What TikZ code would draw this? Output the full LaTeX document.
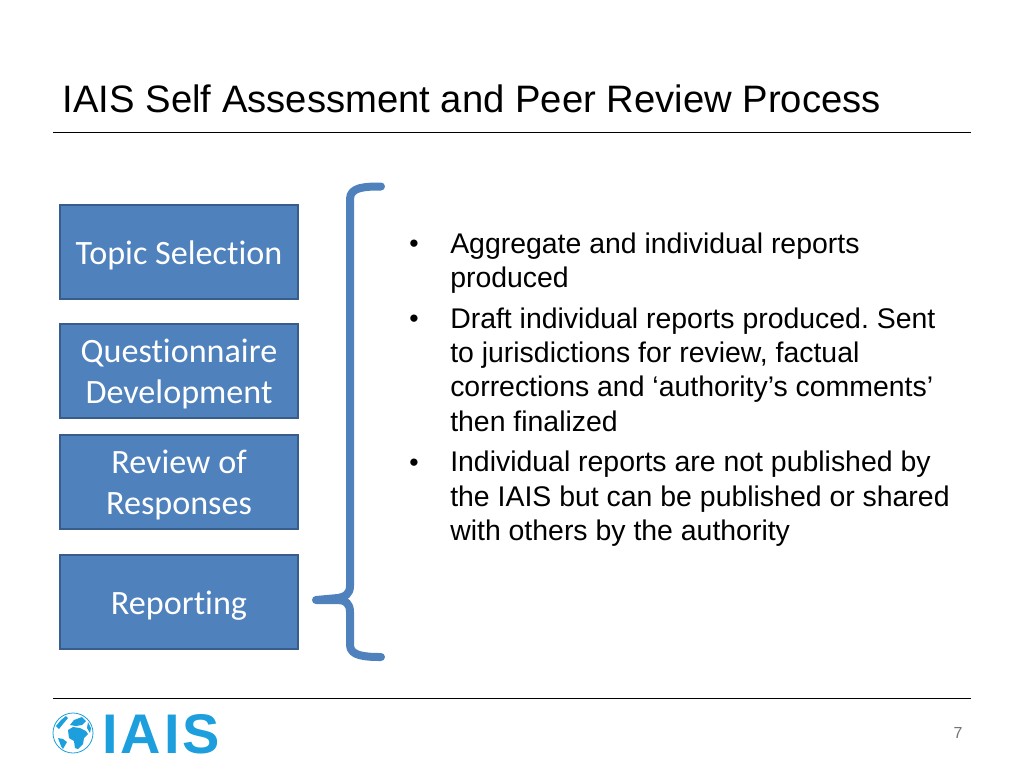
\documentclass[tikz,border=0pt]{standalone}
\usepackage{fontspec}
\setmainfont{Liberation Sans}
\newfontfamily\boxfont[Ligatures=NoCommon]{Carlito}
\newfontfamily\logofont[LetterSpace=5.4]{Liberation Sans}
\usetikzlibrary{positioning}
\definecolor{boxfill}{HTML}{4F81BD}
\definecolor{boxline}{HTML}{385D8A}
\definecolor{logoblue}{HTML}{1C9FDC}
\newcommand{\stagelift}{\rule{0pt}{22.5pt}}
\frenchspacing
\begin{document}
\begin{tikzpicture}[x=.75pt, y=-.75pt,
                    stage/.style = {rectangle, draw=boxline, line width=1.7pt, fill=boxfill, text=white,
                            minimum width=178.5pt, minimum height=70pt, align=center, inner sep=0pt,
                            font=\boxfont\fontsize{25.6pt}{30.8pt}\selectfont},
                    rule/.style = {line width=.75pt, black},
                    report/.style = {anchor=north west, inner sep=0pt, align=left,
                            font=\fontsize{21.32pt}{25.7pt}\selectfont},
                    bulletmark/.style = {anchor=north west, inner sep=0pt,
                            font=\fontsize{20pt}{25.7pt}\selectfont},
                    brace/.style = {draw=boxfill, line width=6pt, line cap=round, line join=round},
                    land/.style = {fill=logoblue, draw=none} ]

        \useasboundingbox (0,0) rectangle (1024,768);

        % title
        \node [anchor=base west, inner sep=0pt, font=\fontsize{28.67pt}{35pt}\selectfont] (title) at (62.5,112) {IAIS Self Assessment and Peer Review Process};
        \coordinate (titleL) at (53,132);
        \coordinate (titleR) at (971,132);
        \draw [rule] (titleL) -- (titleR);

        % process stages
        \node [stage] (topic) at (179,252) {\stagelift Topic Selection};
        \node [stage] (quest) at (179,371) {\stagelift Questionnaire\\Development};
        \node [stage] (review) at (179,482) {\stagelift Review of\\Responses};
        \node [stage] (reporting) at (179,602) {\stagelift Reporting};

        % brace
        \draw [brace] (381,186.5) .. controls (365,186.5) and (350,187) .. (350,199)
                -- (350,586) .. controls (350,594) and (345,597) .. (338,598)
                -- (316,600) -- (338,600) .. controls (345,600) and (350,603) .. (350,612)
                -- (350,645) .. controls (350,656) and (365,657) .. (381,657);

        % reports text
        \node [report] (rep1) at (450,232.5) {Aggregate and individual reports\\produced};
        \node [report] (rep2) at (450,307.5) {Draft individual reports produced. Sent\\to jurisdictions for review, factual\\corrections and ‘authority’s comments’\\then finalized};
        \node [report] (rep3) at (450,451) {Individual reports are not published by\\the IAIS but can be published or shared\\with others by the authority};
        \foreach \rep in {rep1,rep2,rep3}
            \node [bulletmark, left=30.6pt of \rep.north west, anchor=north west, yshift=-5.5pt] (mark\rep) {•};

        % footer
        \coordinate (footL) at (53,698);
        \coordinate (footR) at (971,698);
        \draw [rule] (footL) -- (footR);
        \node [font=\fontsize{12pt}{14pt}\selectfont, text=black!55, inner sep=0pt] (pagenum) at (958,733) {7};

        % logo
        \node [anchor=base west, inner sep=0pt, text=logoblue, font=\logofont\bfseries\fontsize{41.9pt}{42pt}\selectfont] (logotext) at (102,753) {IAIS};
        \node [circle, draw=logoblue, line width=.6pt, minimum size=30pt, inner sep=0pt] (globe) at (73,733) {};
        \fill [land] (68,730) -- (73,727) -- (80,728) -- (86,731) -- (88,734) -- (84,738) -- (83,744) -- (78,749) -- (75,748) -- (74,741) -- (69,738) -- cycle;
        \fill [land] (70,725) -- (74,720) -- (82,717) -- (86,721) -- (82,725) -- (76,726) -- cycle;
        \fill [land] (56,726) -- (61,720) -- (66,716) -- (68,718) -- (63,724) -- (59,729) -- cycle;
        \fill [land] (58,738) -- (63,739) -- (67,742) -- (63,749) -- (61,746) -- cycle;
        \fill [land] (88,722) -- (91,728) -- (90,733) -- (87,728) -- cycle;
\end{tikzpicture}
\end{document}
